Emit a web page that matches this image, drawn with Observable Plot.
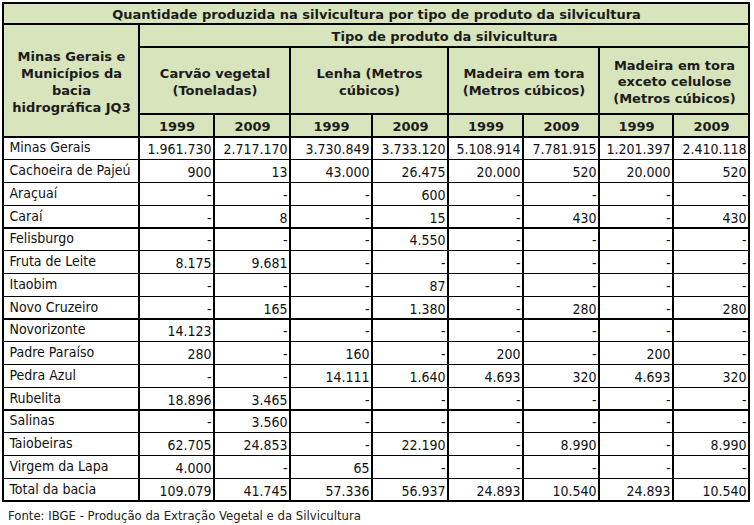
<!DOCTYPE html>
<html><head><meta charset="utf-8">
<script src="https://cdn.jsdelivr.net/npm/d3@7"></script>
<script src="https://cdn.jsdelivr.net/npm/@observablehq/plot@0.6"></script>
<style>
body{margin:0;background:#fff;}
#chart svg{display:block;}
#fonte{font-family:"DejaVu Sans Condensed","DejaVu Sans",sans-serif;font-size:13px;color:#222;margin:5px 0 0 8px;}
</style></head><body>
<div id="chart"></div>
<div id="fonte">Fonte: IBGE - Produção da Extração Vegetal e da Silvicultura</div>
<script>
// ---- data ----
const titulo = "Quantidade produzida na silvicultura por tipo de produto da silvicultura";
const subtitulo = "Tipo de produto da silvicultura";
const cabecalhoLinhas = "Minas Gerais e\nMunicípios da\nbacia\nhidrográfica JQ3";
const produtos = ["Carvão vegetal\n(Toneladas)", "Lenha (Metros\ncúbicos)", "Madeira em tora\n(Metros cúbicos)", "Madeira em tora\nexceto celulose\n(Metros cúbicos)"];
const anos = ["1999", "2009"];
const municipios = ["Minas Gerais", "Cachoeira de Pajeú", "Araçuaí", "Caraí", "Felisburgo", "Fruta de Leite", "Itaobim", "Novo Cruzeiro", "Novorizonte", "Padre Paraíso", "Pedra Azul", "Rubelita", "Salinas", "Taiobeiras", "Virgem da Lapa", "Total da bacia"];
const carvao1999 = [1961730, 900, null, null, null, 8175, null, null, 14123, 280, null, 18896, null, 62705, 4000, 109079];
const carvao2009 = [2717170, 13, null, 8, null, 9681, null, 165, null, null, null, 3465, 3560, 24853, null, 41745];
const lenha1999 = [3730849, 43000, null, null, null, null, null, null, null, 160, 14111, null, null, null, 65, 57336];
const lenha2009 = [3733120, 26475, 600, 15, 4550, null, 87, 1380, null, null, 1640, null, null, 22190, null, 56937];
const madeira1999 = [5108914, 20000, null, null, null, null, null, null, null, 200, 4693, null, null, null, null, 24893];
const madeira2009 = [7781915, 520, null, 430, null, null, null, 280, null, null, 320, null, null, 8990, null, 10540];
const madeiraExc1999 = [1201397, 20000, null, null, null, null, null, null, null, 200, 4693, null, null, null, null, 24893];
const madeiraExc2009 = [2410118, 520, null, 430, null, null, null, 280, null, null, 320, null, null, 8990, null, 10540];
const series = [carvao1999, carvao2009, lenha1999, lenha2009, madeira1999, madeira2009, madeiraExc1999, madeiraExc2009];

// ---- layout ----
const colW = [136, 75, 76, 82, 76, 75, 76, 74, 76];
const headH = [21, 23, 67, 23];
const rowH = 22.75;
const FONT = "DejaVu Sans Condensed";
const HEAD_FONT = "DejaVu Sans";
const HEADER_FILL = "#d8e4bc";

const colX = [0]; colW.forEach(w => colX.push(colX[colX.length - 1] + w));
const rowY = [0]; headH.forEach(h => rowY.push(rowY[rowY.length - 1] + h));
municipios.forEach(() => rowY.push(rowY[rowY.length - 1] + rowH));
const totalW = colX[colX.length - 1], totalH = rowY[rowY.length - 1];

const fmt = d3.formatLocale({decimal: ",", thousands: ".", grouping: [3], currency: ["", ""]}).format(",d");

// header cells
const head = [];
const cell = (c1, c2, r1, r2, text) => ({x1: colX[c1], x2: colX[c2], y1: rowY[r1], y2: rowY[r2], text});
head.push(cell(0, 9, 0, 1, titulo));
head.push(cell(0, 1, 1, 4, cabecalhoLinhas));
head.push(cell(1, 9, 1, 2, subtitulo));
produtos.forEach((p, i) => {
  head.push(cell(1 + 2 * i, 3 + 2 * i, 2, 3, p));
  anos.forEach((a, j) => head.push(cell(1 + 2 * i + j, 2 + 2 * i + j, 3, 4, a)));
});

// body cells
const body = [];
municipios.forEach((m, r) => {
  body.push({...cell(0, 1, 4 + r, 5 + r, m), align: "start"});
  series.forEach((s, c) => {
    const v = s[r];
    body.push({...cell(1 + c, 2 + c, 4 + r, 5 + r, v == null ? "-" : fmt(v)), align: "end"});
  });
});

const chart = Plot.plot({
  width: 754,
  height: 503,
  marginLeft: 3, marginRight: 5, marginTop: 3, marginBottom: 2,
  x: {type: "linear", domain: [0, totalW], axis: null},
  y: {type: "linear", domain: [0, totalH], range: [3, 3 + totalH], axis: null},
  style: {background: "#fff", fontFamily: FONT},
  marks: [
    Plot.rect(head, {x1: "x1", x2: "x2", y1: "y1", y2: "y2", fill: HEADER_FILL, stroke: "#000", strokeWidth: 1.2, shapeRendering: "crispEdges"}),
    Plot.rect(body, {x1: "x1", x2: "x2", y1: "y1", y2: "y2", fill: "#fff", stroke: "#000", strokeWidth: 1.2, shapeRendering: "crispEdges"}),
    Plot.text(head, {x: d => (d.x1 + d.x2) / 2, y: d => (d.y1 + d.y2) / 2, text: "text", fontWeight: "bold", fontSize: 13, lineHeight: 1.3, fill: "#1b1b1b", fontFamily: HEAD_FONT, dy: 0}),
    Plot.text(body.filter(d => d.align === "start"), {x: d => d.x1 + 6, y: d => (d.y1 + d.y2) / 2, text: "text", textAnchor: "start", fontSize: 14, fill: "#111", fontFamily: FONT, dy: -1}),
    Plot.text(body.filter(d => d.align === "end"), {x: d => d.x2 - 3, y: d => (d.y1 + d.y2) / 2, text: "text", textAnchor: "end", fontSize: 14, fill: "#111", fontFamily: FONT, dy: 1})
  ]
});
document.getElementById("chart").appendChild(chart);
</script>
</body></html>
